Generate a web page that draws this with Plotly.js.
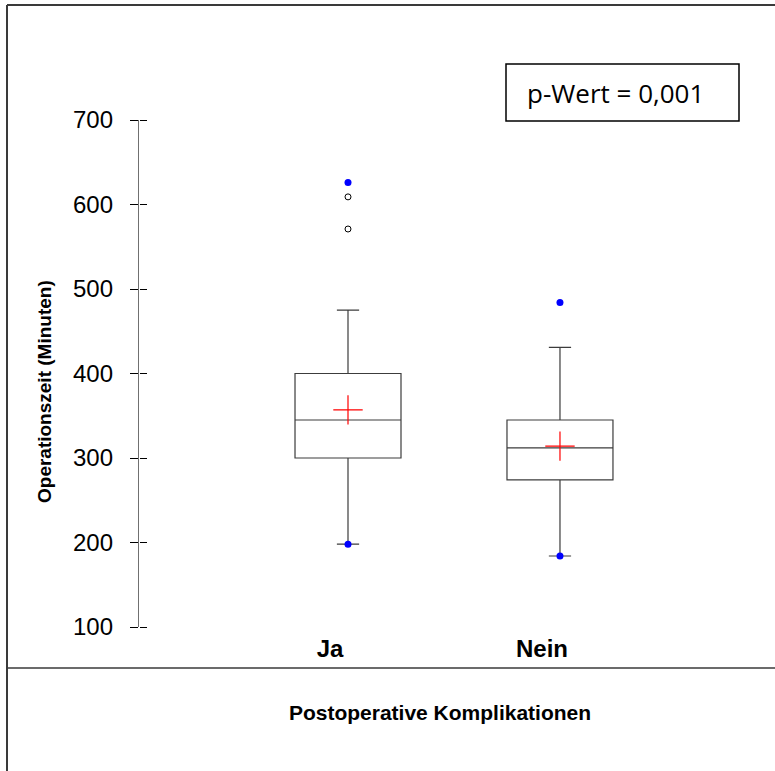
<!DOCTYPE html>
<html><head><meta charset="utf-8">
<script src="https://cdn.plot.ly/plotly-3.0.1.min.js"></script>
<style>html,body{margin:0;padding:0;background:#fff}#chart{width:775px;height:771px}</style>
</head><body><div id="chart"></div>
<script>
const categories = ['Ja', 'Nein'];
const q1 = [300, 274];
const medians = [345, 312];
const q3 = [400, 345];
const lowerWhiskers = [198, 184];
const upperWhiskers = [475, 431];
const means = [357, 314];
const minima = [198, 184];
const maxima = [626, 484];
const outlierCats = ['Ja', 'Ja'];
const outlierValues = [609, 571];
const yTicks = [100, 200, 300, 400, 500, 600, 700];
const pText = 'p-Wert = 0,001';

const W = 775, H = 771;
const M = {l: 139, r: 34, t: 120, b: 144};
const pw = W - M.l - M.r, ph = H - M.t - M.b;
const px = v => (v - M.l) / pw;
const py = v => (H - M.b - v) / ph;

const traces = [
  {type: 'box', x: categories, q1: q1, median: medians, q3: q3,
   lowerfence: lowerWhiskers, upperfence: upperWhiskers,
   width: 0.5, whiskerwidth: 0.21, boxpoints: false,
   fillcolor: 'rgba(255,255,255,0)', line: {color: '#3c3c3c', width: 1.2},
   hoverinfo: 'skip', showlegend: false},
  {type: 'scatter', mode: 'markers', x: categories, y: means,
   marker: {symbol: 'cross-thin', size: 21, color: 'red', line: {color: 'red', width: 1.2}},
   showlegend: false, hoverinfo: 'skip'},
  {type: 'scatter', mode: 'markers', x: outlierCats, y: outlierValues,
   marker: {symbol: 'circle-open', size: 6, color: 'black', line: {color: 'black', width: 1}},
   showlegend: false, hoverinfo: 'skip'},
  {type: 'scatter', mode: 'markers', x: categories.concat(categories), y: minima.concat(maxima),
   marker: {symbol: 'circle', size: 7, color: '#0000ff'},
   showlegend: false, hoverinfo: 'skip'},
  // invisible helper so the overlaid tick axis (right-hand tick halves) is drawn
  {type: 'scatter', mode: 'markers', x: categories, y: medians, yaxis: 'y2',
   marker: {size: 1, opacity: 0}, showlegend: false, hoverinfo: 'skip'}
];

const frameColor = '#3a3a3a';
const layout = {
  width: W, height: H, margin: M,
  paper_bgcolor: '#fff', plot_bgcolor: '#fff',
  font: {family: 'Liberation Sans, Arial, sans-serif', color: '#000'},
  showlegend: false,
  xaxis: {type: 'category', categoryarray: categories, range: [-0.986, 1.854],
    showgrid: false, zeroline: false, showline: false, ticks: '',
    tickfont: {size: 24, weight: 'bold'}, ticklabelshift: -18, ticklabelstandoff: 5,
    title: {text: 'Postoperative Komplikationen', font: {size: 21, weight: 'bold'}, standoff: 44}},
  yaxis: {range: [100, 700], tickvals: yTicks, showgrid: false, zeroline: false,
    showline: true, linecolor: '#707070', linewidth: 1.2,
    ticks: 'outside', ticklen: 8, tickcolor: '#000', tickwidth: 1,
    tickfont: {size: 24}, ticklabelstandoff: 12},
  yaxis2: {range: [100, 700], tickvals: yTicks, overlaying: 'y', anchor: 'free', position: 0, side: 'right',
    showgrid: false, zeroline: false, showline: false, showticklabels: false,
    ticks: 'outside', ticklen: 7, tickcolor: '#000', tickwidth: 1},
  shapes: [
    {type: 'line', xref: 'paper', yref: 'paper', x0: px(7), x1: px(775), y0: py(5), y1: py(5), line: {color: frameColor, width: 2}},
    {type: 'line', xref: 'paper', yref: 'paper', x0: px(7), x1: px(7), y0: py(5), y1: py(771), line: {color: frameColor, width: 2}},
    {type: 'line', xref: 'paper', yref: 'paper', x0: px(7), x1: px(775), y0: py(668), y1: py(668), line: {color: frameColor, width: 1.5}},
    {type: 'rect', xref: 'paper', yref: 'paper', x0: px(506), x1: px(739), y0: py(64), y1: py(121), line: {color: '#000', width: 1.5}, fillcolor: 'rgba(0,0,0,0)'}
  ],
  annotations: [
    {xref: 'paper', yref: 'paper', x: px(615), y: py(92.5), xanchor: 'center', yanchor: 'middle',
     text: pText, showarrow: false, font: {family: 'Open Sans, sans-serif', size: 26, color: '#000'}},
    {xref: 'paper', yref: 'paper', x: px(44), y: py(392), xanchor: 'center', yanchor: 'middle',
     text: 'Operationszeit (Minuten)', textangle: -90, showarrow: false,
     font: {size: 19, weight: 'bold', color: '#000'}}
  ]
};

Plotly.newPlot('chart', traces, layout, {displayModeBar: false, staticPlot: true});
</script></body></html>
